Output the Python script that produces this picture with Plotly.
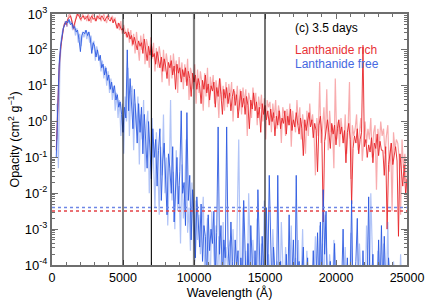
import plotly.graph_objects as go

# Wavelength grids (Angstrom); the light (high-resolution) curves are sampled half a step later
wavelength = list(range(300, 25001, 100))
wavelength_light = list(range(350, 25051, 100))

# log10 opacity (cm^2 g^-1)
rich_dark_log = [
    -0.8, 0.6, 1.5, 2.0, 2.4, 2.6, 2.75, 2.7, 2.85, 2.9,
    2.95, 2.8, 2.6, 2.75, 2.9, 3.0, 2.95, 2.85, 2.9, 2.95,
    2.85, 2.9, 2.95, 2.8, 2.9, 2.95, 2.85, 2.9, 2.8, 2.95,
    2.9, 2.85, 2.95, 2.9, 2.8, 2.9, 2.95, 2.85, 2.8, 2.9,
    2.75, 2.85, 2.7, 2.6, 2.75, 2.65, 2.55, 2.6, 2.45, 2.5,
    2.35, 2.5, 2.3, 2.4, 2.15, 2.35, 2.2, 2.0, 2.25, 2.1,
    2.2, 1.9, 2.3, 2.0, 1.7, 2.1, 1.85, 2.15, 1.8, 1.9,
    1.6, 1.95, 1.7, 1.5, 1.8, 1.4, 1.75, 1.55, 1.2, 1.65,
    1.5, 1.7, 1.3, 1.55, 0.9, 1.6, 1.35, 1.5, 1.1, 1.45,
    1.25, 1.5, 1.0, 1.4, 1.2, 0.7, 1.35, 1.1, 1.3, 0.9,
    1.2, 1.0, 0.5, 1.15, 0.9, 1.3, 0.8, 1.05, 0.6, 1.0,
    0.85, 1.1, 0.4, 0.95, 0.7, 1.2, 0.75, 0.2, 0.9, 0.65,
    0.95, 0.5, 0.8, 0.3, 0.7, 0.9, 0.45, 0.75, 0.1, 0.6,
    0.85, 0.4, 0.65, 0.2, 0.7, 0.45, -0.2, 0.6, 0.35, 0.8,
    0.3, 0.55, 0.1, 0.4, -0.3, 0.5, 0.2, 0.45, 0.05, 0.3,
    -0.1, 0.35, 0.0, 0.25, -0.4, 0.15, -0.1, 0.3, -0.2, 0.1,
    -0.05, 0.3, -0.35, 0.15, -0.1, 0.35, -0.25, 0.05, -0.15, 0.25,
    -0.05, -0.35, 0.1, -0.2, -0.95, 0.05, -0.25, -0.05, 0.25, -0.15,
    0.05, -0.45, -0.05, -0.25, -1.4, -0.1, 0.15, -0.35, -2.8, -0.55,
    -0.15, 0.05, -0.3, -0.75, -0.05, -0.35, -0.1, -0.65, -0.2, 0.05,
    -0.35, -0.15, -0.6, -0.25, -1.15, -0.3, -0.05, -0.5, -2.3, -0.75,
    -0.4, -0.6, -0.2, -0.9, -0.5, -0.3, 2.1, -0.7, -0.5, -1.0,
    -0.65, -0.85, -0.45, -1.15, -0.6, -0.75, -0.35, -0.95, -0.55, -0.8,
    -0.8, -1.5, -0.7, -3.0, -1.2, -0.85, -0.6, -1.2, -0.9, -0.7,
    -1.1, -3.2, -0.9, -1.4, -1.8, -1.2, -2.0, -1.6,
]

rich_light_log = [
    -0.5, 0.9, 1.7, 2.2, 2.5, 2.7, 2.8, 2.65, 2.95, 3.0,
    2.9, 2.7, 2.55, 2.85, 3.0, 2.95, 3.0, 2.8, 3.0, 2.9,
    2.95, 2.8, 3.0, 2.9, 2.75, 3.0, 2.95, 2.8, 2.95, 2.85,
    3.0, 2.8, 2.9, 3.0, 2.85, 2.75, 3.0, 2.9, 2.85, 2.95,
    2.8, 2.9, 2.6, 2.75, 2.55, 2.8, 2.45, 2.7, 2.55, 2.35,
    2.6, 2.2, 2.55, 2.1, 2.45, 1.9, 2.5, 2.15, 1.7, 2.4,
    2.0, 2.45, 1.6, 2.3, 2.1, 1.5, 2.35, 1.75, 2.2, 1.4,
    2.05, 1.5, 2.1, 1.8, 1.1, 2.0, 1.4, 1.9, 1.6, 1.0,
    1.85, 1.2, 1.9, 1.4, 1.7, 0.8, 1.8, 1.2, 1.65, 0.9,
    1.6, 1.1, 1.75, 0.6, 1.5, 1.3, 0.9, 1.6, 0.5, 1.45,
    0.8, 1.4, 1.1, 0.3, 1.35, 0.7, 1.5, 0.4, 1.25, 0.9,
    1.3, 0.5, 1.15, 0.85, 0.1, 1.2, 0.6, 1.0, 0.3, 1.1,
    0.4, 1.05, 0.7, 1.1, 0.0, 0.85, 0.6, 1.0, 0.3, 0.9,
    0.2, 0.95, 0.5, 0.9, -0.4, 0.8, 0.6, 0.1, 0.95, 0.45,
    0.8, -0.1, 0.7, 0.35, 0.75, 0.0, 0.65, -0.5, 0.6, 0.4,
    0.55, -0.3, 0.5, 0.1, 0.6, -0.2, 0.45, 0.2, -0.6, 0.4,
    0.2, -0.4, 0.35, -0.1, 0.5, -0.7, 0.3, 0.0, -0.3, 0.6,
    -0.1, 0.4, -0.5, 0.2, -0.2, -0.9, 0.3, -0.4, 0.5, -0.1,
    0.2, -0.3, -1.5, 0.1, -0.4, 1.1, -0.6, -0.2, 0.4, -0.5,
    0.9, -0.8, 0.3, -0.3, -0.1, -1.3, 1.2, -0.5, 0.0, -0.7,
    0.1, -0.3, -0.6, 0.2, -0.9, -0.2, 1.1, -1.6, -0.1, -0.4,
    -0.2, 0.2, -0.8, -0.3, 0.1, -1.1, -0.4, 0.0, -0.6, -0.2,
    -0.5, 0.1, -1.0, -0.3, -0.1, -1.9, -0.2, -0.7, 0.0, -0.4,
    -0.2, -0.9, -0.4, -0.1, -1.4, -0.6, -2.5, -0.3, -0.8, -0.5,
    -0.6, -1.0, -2.6, -0.5, -1.3, -0.9, -1.7, -2.4,
]

free_dark_log = [
    -1.0, 0.5, 1.6, 2.1, 2.4, 2.6, 2.7, 2.8, 2.75, 2.85,
    2.7, 2.75, 2.6, 2.65, 2.5, 2.55, 2.3, 1.95, 2.4, 2.5,
    2.45, 2.55, 2.4, 2.5, 2.3, 1.9, 2.2, 2.1, 1.8, 2.0,
    1.7, 1.85, 1.5, 1.6, 1.3, 1.5, 1.15, 1.3, 0.9, 1.1,
    0.8, 1.0, 0.6, 0.75, 0.4, 0.55, 0.2, -0.3, 0.4, 0.1,
    2.0, 0.3, 1.2, 0.6, -0.2, 0.9, 0.1, -0.6, 0.5, -0.3,
    0.4, -0.9, 0.2, -0.4, -1.3, 0.0, -0.7, -1.6, -0.2, -1.0,
    -0.5, -1.8, -0.8, -0.2, -2.2, -1.1, -0.6, -1.5, -2.6, -0.9,
    -1.3, -2.0, -0.7, -2.8, -1.6, -1.0, -2.3, -1.4, 0.3, -2.0,
    -1.7, -2.9, 0.25, -2.2, -1.5, -3.3, -1.9, -2.6, -3.8, -2.1,
    -2.8, -3.5, -2.3, -3.9, -2.9, -3.2, -4.5, -2.6, -3.6, -3.0,
    -3.4, -2.5, -4.3, -3.1, -0.15, -3.7, -2.9, -4.6, -3.3, -3.8,
    -0.15, -3.5, -4.2, -2.8, -3.9, -4.8, -3.3, -4.1, -3.6, -5.0,
    -3.8, -4.6, -2.2, -4.3, -5.0, -3.4, -4.7, -2.9, -4.4, -5.0,
    -3.6, -4.8, -1.9, -4.5, -5.0, -3.2, -4.6, -5.0, -2.4, -4.2,
    -1.5, -4.7, -5.0, -3.5, -4.4, -5.0, -1.5, -4.6, -3.9, -5.0,
    -4.2, -5.0, -3.7, -4.8, -2.6, -5.0, -4.3, -3.3, -5.0, -1.5,
    -4.5, -3.9, -5.0, -4.2, -3.5, -5.0, -4.6, -3.8, -5.0, -4.3,
    -4.8, -3.6, -5.0, -4.4, -3.1, -5.0, -2.8, -4.5, -1.9, -3.7,
    -2.5, -5.0, -4.3, -3.9, -5.0, -4.6, -3.4, -5.0, -4.8, -4.1,
    -5.0, -4.5, -3.0, -5.0, -4.7, -3.8, -5.0, -4.4, -2.2, -5.0,
    -4.6, -3.9, -2.7, -5.0, -4.3, -5.0, -3.6, -4.8, -5.0, -4.5,
    -2.1, -5.0, -4.4, -3.7, -5.0, -4.6, -5.0, -3.3, -4.7, -2.9,
    -5.0, -3.2, -4.5, -5.0, -3.8, -4.9, -5.0, -4.4, -5.0, -4.6,
    -5.0, -4.7, -5.0, -4.3, -5.0, -5.0, -4.8, -5.0,
]

free_light_log = [
    0.5, -1.3, 1.4, 2.3, 2.55, 2.7, 2.8, 2.65, 2.85, 2.75,
    2.8, 2.55, 2.7, 2.4, 2.6, 2.2, 2.45, 2.1, 2.5, 2.35,
    2.55, 2.3, 2.5, 2.2, 2.4, 2.0, 2.25, 1.7, 2.1, 1.9,
    1.8, 1.4, 1.7, 1.2, 1.55, 1.0, 1.4, 0.8, 1.2, 0.6,
    1.0, 0.3, 0.8, 0.1, 0.6, -0.4, 0.5, -0.9, 0.7, 0.0,
    1.5, -0.4, 0.8, 1.0, -0.8, 0.5, -0.2, 0.7, -1.2, 0.2,
    -0.5, 0.6, -1.4, -0.1, 0.3, -2.0, -0.6, 0.1, -1.1, -2.4,
    -0.3, -1.2, -2.6, -0.7, -1.5, 0.2, -2.0, -1.0, -2.9, -1.6,
    0.6, -2.2, -1.4, -3.0, -0.8, -2.5, -1.8, -3.4, -1.2, -2.7,
    -2.0, -0.5, -3.1, -2.4, -3.6, -1.7, -2.9, -3.9, -2.2, -3.3,
    -2.6, -3.7, -3.0, -2.1, -4.2, -3.4, -2.7, -3.9, -4.4, -2.5,
    -3.6, -4.1, -2.9, -4.6, -3.2, -3.8, -5.0, -2.8, -4.3, -3.5,
    -4.0, -3.5, -3.3, -4.7, -3.0, -4.2, -5.0, -2.6, -0.5, -3.9,
    -4.4, -2.4, -5.0, -3.6, -4.8, -2.0, -4.1, -5.0, -3.3, -4.6,
    -5.0, -2.7, -4.3, -5.0, -3.4, -4.9, -2.2, -4.5, -5.0, -3.7,
    -4.8, -5.0, -3.0, -4.6, -5.0, -3.9, -4.4, -5.0, -2.8, -4.7,
    -5.0, -3.5, -4.9, -5.0, -4.1, -2.9, -5.0, -4.6, -3.8, -5.0,
    -3.3, -5.0, -4.4, -3.0, -5.0, -4.7, -3.6, -5.0, -4.2, -5.0,
    -5.0, -4.3, -3.2, -5.0, -4.6, -2.9, -5.0, -3.4, -4.8, -2.6,
    -4.5, -5.0, -3.7, -4.9, -5.0, -3.3, -4.6, -5.0, -4.1, -5.0,
    -4.4, -5.0, -4.8, -3.5, -5.0, -4.2, -5.0, -3.1, -4.7, -5.0,
    -5.0, -4.6, -5.0, -3.4, -4.9, -5.0, -4.3, -5.0, -2.9, -4.7,
    -5.0, -2.0, -4.6, -5.0, -4.1, -5.0, -3.6, -4.8, -5.0, -4.4,
    -3.4, -5.0, -4.7, -2.8, -5.0, -4.5, -5.0, -3.9, -4.8, -5.0,
    -4.6, -5.0, -3.7, -5.0, -4.9, -5.0, -4.4, -5.0,
]

# Reference markers
marker_wavelengths = [5000, 7000, 10000, 15000]
rich_threshold = 3.2e-3
free_threshold = 4.0e-3

y_tickvals = [1e-4, 1e-3, 1e-2, 1e-1, 1e0, 1e1, 1e2, 1e3]
y_ticktext = ["10<sup>-4</sup>", "10<sup>-3</sup>", "10<sup>-2</sup>", "10<sup>-1</sup>",
              "10<sup>0</sup>", "10<sup>1</sup>", "10<sup>2</sup>", "10<sup>3</sup>"]
x_tickvals = [0, 5000, 10000, 15000, 20000, 25000]
x_ticktext = ["0", "5000", "10000", "15000", "20000", "25000"]

for name, arr, grid in [("rich_dark", rich_dark_log, wavelength),
                        ("rich_light", rich_light_log, wavelength_light),
                        ("free_dark", free_dark_log, wavelength),
                        ("free_light", free_light_log, wavelength_light)]:
    if len(arr) != len(grid):
        raise SystemExit(f"{name}: {len(arr)} vs {len(grid)}")

def lin(a):
    return [10 ** v for v in a]

RED = "rgb(232,36,40)"
RED_L = "rgba(240,70,75,0.45)"
BLUE = "rgb(45,90,225)"
BLUE_L = "rgba(70,115,235,0.42)"

fig = go.Figure()
fig.add_trace(go.Scatter(x=wavelength_light, y=lin(rich_light_log), mode="lines",
                         line=dict(color=RED_L, width=1.2), showlegend=False))
fig.add_trace(go.Scatter(x=wavelength, y=lin(rich_dark_log), mode="lines",
                         line=dict(color=RED, width=0.9), showlegend=False))
fig.add_trace(go.Scatter(x=wavelength_light, y=lin(free_light_log), mode="lines",
                         line=dict(color=BLUE_L, width=1.2), showlegend=False))
fig.add_trace(go.Scatter(x=wavelength, y=lin(free_dark_log), mode="lines",
                         line=dict(color=BLUE, width=0.9), showlegend=False))

vcolors = ["rgba(0,0,0,0.5)", "rgba(0,0,0,0.9)", "rgba(0,0,0,0.5)", "rgba(0,0,0,0.6)"]
vwidths = [2.0, 1.2, 2.2, 1.8]
for xv, c, w in zip(marker_wavelengths, vcolors, vwidths):
    fig.add_shape(type="line", xref="x", yref="paper", x0=xv, x1=xv, y0=0, y1=1,
                  line=dict(color=c, width=w), layer="above")

fig.add_shape(type="line", xref="paper", yref="y", x0=0, x1=1,
              y0=free_threshold, y1=free_threshold,
              line=dict(color="rgb(110,135,230)", width=1.4, dash="dot"), layer="above")
fig.add_shape(type="line", xref="paper", yref="y", x0=0, x1=1,
              y0=rich_threshold, y1=rich_threshold,
              line=dict(color="rgb(228,65,70)", width=1.4, dash="dot"), layer="above")

FONT = "Liberation Sans, Arial, sans-serif"
fig.add_annotation(x=0.679, y=0.944, xref="paper", yref="paper", text="(c) 3.5 days",
                   showarrow=False, xanchor="left", yanchor="middle",
                   font=dict(family=FONT, size=12, color="black"))
fig.add_annotation(x=0.679, y=0.857, xref="paper", yref="paper", text="Lanthanide rich",
                   showarrow=False, xanchor="left", yanchor="middle",
                   font=dict(family=FONT, size=12, color="rgb(232,50,55)"))
fig.add_annotation(x=0.679, y=0.801, xref="paper", yref="paper", text="Lanthanide free",
                   showarrow=False, xanchor="left", yanchor="middle",
                   font=dict(family=FONT, size=12, color="rgb(70,105,225)"))

AX = "rgb(110,110,110)"
fig.update_xaxes(range=[0, 25000], tickvals=x_tickvals, ticktext=x_ticktext,
                 ticks="inside", ticklen=5, automargin=False,
                 tickcolor=AX, tickwidth=1.2, showline=True, linecolor=AX, linewidth=2,
                 mirror="allticks", showgrid=False, zeroline=False,
                 minor=dict(dtick=1000, ticks="inside", ticklen=3, tickcolor=AX, showgrid=False),
                 tickfont=dict(family=FONT, size=12.5, color="black"),
                 title=dict(text="Wavelength (Å)", standoff=3,
                            font=dict(family=FONT, size=12.5, color="black")))
fig.update_yaxes(type="log", range=[-4, 3], tickvals=y_tickvals, ticktext=y_ticktext,
                 ticks="inside", ticklen=6, tickcolor=AX, tickwidth=1.2, automargin=False,
                 showline=True, linecolor=AX, linewidth=2, mirror="allticks",
                 showgrid=False, zeroline=False,
                 minor=dict(dtick="D1", ticks="inside", ticklen=3, tickcolor=AX, showgrid=False),
                 tickfont=dict(family=FONT, size=13, color="black"),
                 title=dict(text="Opacity (cm<sup>2</sup> g<sup>−1</sup>)", standoff=2,
                            font=dict(family=FONT, size=12.5, color="black")))
fig.update_layout(width=435, height=304, margin=dict(l=52, r=28, t=14, b=39),
                  paper_bgcolor="white", plot_bgcolor="white", showlegend=False)

fig.write_html("out.html", config={"displayModeBar": False},
               post_script="document.body.style.margin='0px';document.body.style.overflow='hidden';")
